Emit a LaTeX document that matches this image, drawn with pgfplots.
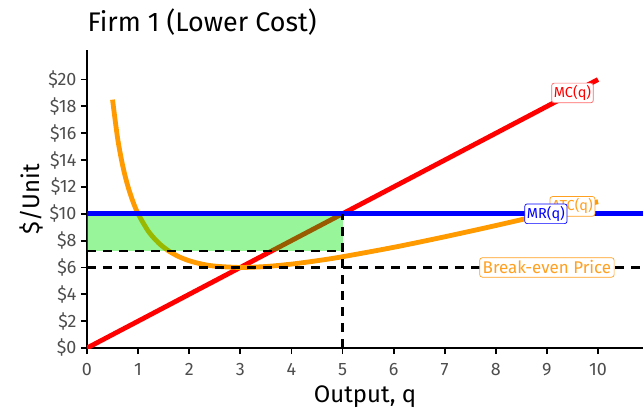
\documentclass[border=0pt]{standalone}
\usepackage{pgfplots}
\pgfplotsset{compat=1.18}
\usepackage{fontspec}
\setmainfont{Fira Sans}
\definecolor{tickgray}{HTML}{4D4D4D}
\definecolor{atcorange}{HTML}{FF9A00}
\definecolor{lblorange}{HTML}{FFA020}
\begin{document}
\begin{tikzpicture}
\begin{axis}[
  name=ax,
  scale only axis, width=556bp, height=298bp,
  xmin=0, xmax=10.88, ymin=0, ymax=22.2,
  axis lines=left, axis line style={line width=2.2bp, black, -},
  clip=true,
  xtick={0,1,...,10},
  ytick={0,2,...,20},
  yticklabels={\$0,\$2,\$4,\$6,\$8,\$10,\$12,\$14,\$16,\$18,\$20},
  xticklabels={0,1,2,3,4,5,6,7,8,9,10},
  tick style={line width=1.8bp, black},
  major tick length=6bp,
  tick align=outside,
  ticklabel style={font=\fontsize{18}{21}\selectfont, text=tickgray},
  xticklabel style={yshift=-6bp},
  yticklabel style={xshift=-1bp},
  xlabel={Output, q},
  ylabel={\$/Unit},
  label style={font=\fontsize{24}{28}\selectfont},
  xlabel style={yshift=-3bp},
  ylabel style={yshift=-2bp},
  title={Firm 1 (Lower Cost)},
  title style={at={(rel axis cs:0,1)}, anchor=base west, yshift=13bp, xshift=-3bp, font=\fontsize{27}{31}\selectfont},
]
% MC
\addplot[red, line width=4.8bp] coordinates {(0,0) (10,20)};
% ATC
\addplot[atcorange, line width=4.8bp, smooth] coordinates {
(0.5,18.5) (0.6,15.6) (0.7,13.557) (0.8,12.05) (0.9,10.9) (1.0,10)
(1.2,8.7) (1.4,7.829) (1.6,7.225) (1.8,6.8) (2.0,6.5) (2.25,6.25)
(2.5,6.1) (3,6) (3.5,6.071) (4,6.25) (4.5,6.5) (5,6.8) (6,7.5)
(7,8.286) (8,9.125) (9,10) (10,10.9)};
% profit area
\addplot[draw=none, fill=green!90!black, fill opacity=0.4] coordinates {(0,7.25) (5,7.25) (5,10) (0,10)} -- cycle;
% MR
\addplot[blue, line width=5.2bp] coordinates {(0,10) (10.9,10)};
% dashed
\addplot[black, line width=2.2bp, dash pattern=on 9bp off 7bp] coordinates {(0,6) (10.9,6)};
\addplot[black, line width=2.2bp, dash pattern=on 9bp off 7bp] coordinates {(0,7.25) (5,7.25)};
\addplot[black, line width=2.2bp, dash pattern=on 9bp off 7bp] coordinates {(5,0) (5,10)};
% labels
\node[draw=red!60, fill=white, text=red, rounded corners=2.5bp, line width=0.7bp, inner sep=2.2bp, font=\fontsize{14.5}{17}\selectfont] at (axis cs:9.5,19.0) {MC(q)};
\node[draw=lblorange, fill=white, text=lblorange, rounded corners=2.5bp, line width=0.7bp, inner sep=2.2bp, font=\fontsize{14.5}{17}\selectfont] at (axis cs:9.5,10.55) {ATC(q)};
\node[draw=blue, fill=white, text=blue, rounded corners=2.5bp, line width=0.7bp, inner sep=2.2bp, font=\fontsize{14.5}{17}\selectfont] at (axis cs:8.98,10.0) {MR(q)};
\node[draw=lblorange, fill=white, text=lblorange, rounded corners=2.5bp, line width=0.7bp, inner sep=3bp, font=\fontsize{17}{20}\selectfont] at (axis cs:9.0,6.0) {Break-even Price};
\end{axis}
\pgfresetboundingbox
\path ([xshift=-87bp,yshift=-68bp]ax.south west) rectangle ([yshift=50bp]ax.north east);
\end{tikzpicture}
\end{document}
